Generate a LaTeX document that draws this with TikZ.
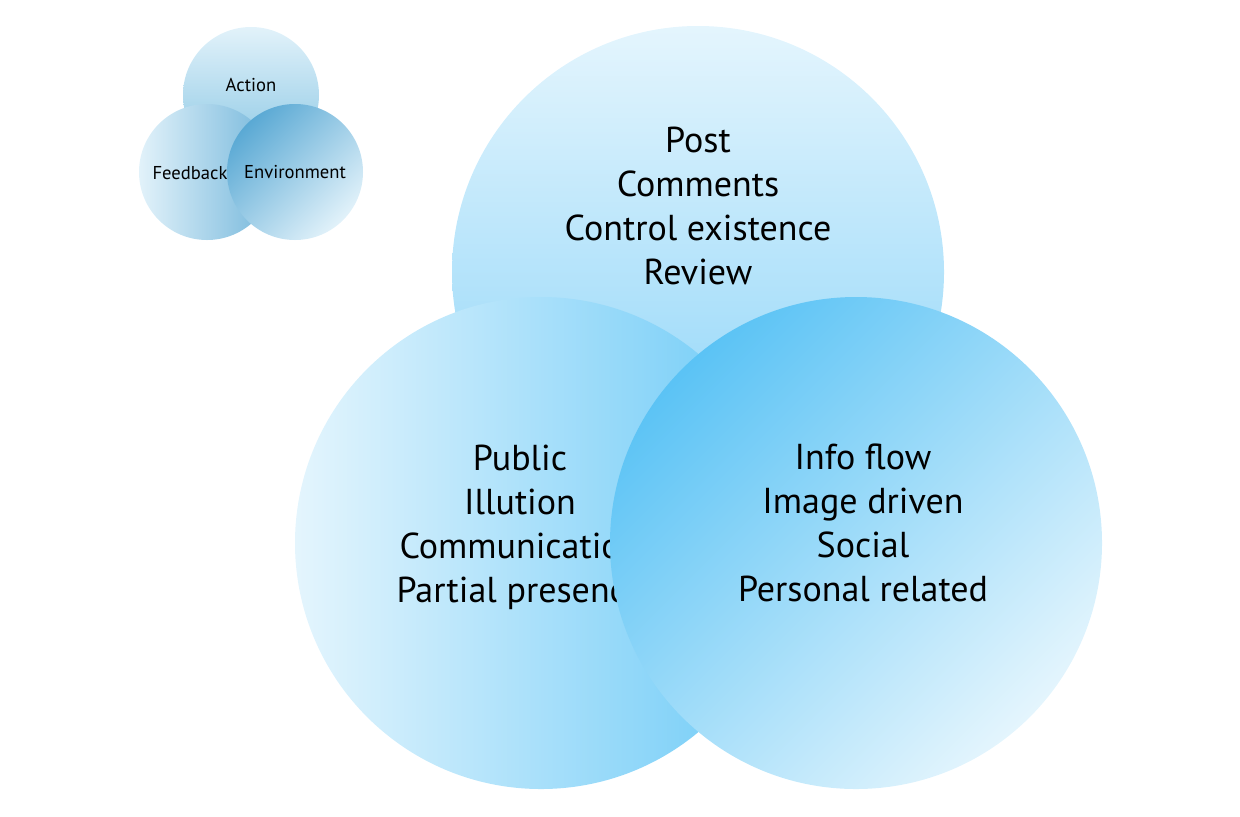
\documentclass[tikz,border=0pt]{standalone}
\usepackage{fontspec}
\setmainfont{PT Sans}
\usetikzlibrary{positioning}
\definecolor{colour_big_light}{HTML}{E4F5FD}
\definecolor{colour_big_dark}{HTML}{5BC3F5}
\definecolor{colour_top_dark}{HTML}{86D2F8}
\definecolor{colour_left_dark}{HTML}{6CCAF7}
\definecolor{colour_small_light}{HTML}{E2F2FA}
\definecolor{colour_small_dark}{HTML}{5AA9D4}
\definecolor{colour_action_dark}{HTML}{86C5E3}

\begin{document}
\begin{tikzpicture}
   [
      x=0.2mm, y=-0.2mm, % one unit is one pixel of the layout
      big circle/.style={circle, inner sep=0pt, minimum size=98.4mm},
      small circle/.style={circle, inner sep=0pt, minimum size=27.2mm},
      big text/.style={align=center, text=black, font=\fontsize{20.5}{25}\selectfont},
      small text/.style={align=center, text=black, font=\fontsize{10.6}{12}\selectfont}
   ]

   \useasboundingbox (0,0) rectangle (1240,816);

   % =======================================================
   % Small diagram: Action, Feedback, Environment
   % =======================================================

   \node[small circle, top color=colour_small_light, bottom color=colour_action_dark] (c_action) at (251,95) {};
   \node[small text] (t_action) at (251,85) {Action};

   \node[small circle, left color=colour_small_light, right color=colour_small_dark!85] (c_feedback) at (207,172) {};

   \node[small circle, top color=colour_small_dark, bottom color=colour_small_light, shading angle=45] (c_environment) at (295,172) {};
   \node[small text] (t_environment) at (c_environment) {Environment};

   % Feedback label on top, so its last letter is not cut
   \node[small text] (t_feedback) at (190,173) {Feedback};

   % =======================================================
   % Large diagram
   % =======================================================

   % Top circle (vertical fade)
   \node[big circle, top color=colour_big_light, bottom color=colour_top_dark] (c_top) at (698,272) {};
   \node[big text] (t_top) at (698,206) {Post\\Comments\\Control existence\\Review};

   % Left circle (horizontal fade)
   \node[big circle, left color=colour_big_light, right color=colour_left_dark] (c_left) at (541,543) {};
   \node[big text] (t_left) at (520,527) {Public\\Illution\\Communication\\Partial presence};

   % Right circle (diagonal fade), drawn last so it covers the left text
   \node[big circle, top color=colour_big_dark, bottom color=colour_big_light, shading angle=45] (c_right) at (856,543) {};
   \node[big text] (t_right) at (863,523) {Info flow\\Image driven\\Social\\Personal related};

\end{tikzpicture}
\end{document}
